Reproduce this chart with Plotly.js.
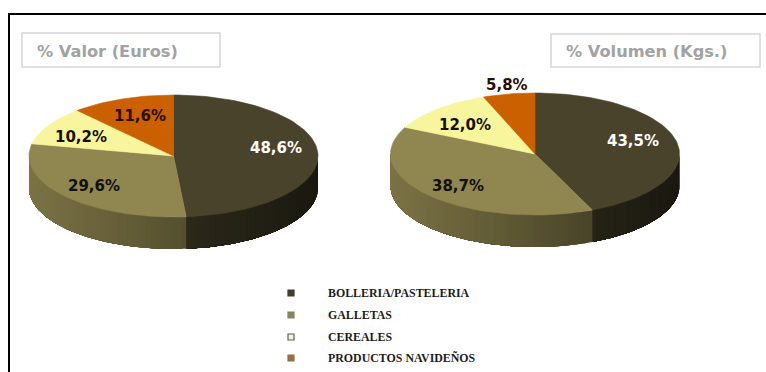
<!DOCTYPE html>
<html>
<head>
<meta charset="utf-8">
<script src="https://cdn.plot.ly/plotly-3.0.1.min.js"></script>
<style>html,body{margin:0;padding:0;background:#fff}#chart{width:766px;height:372px}</style>
</head>
<body>
<div id="chart"></div>
<script>
// Category names and shares per pie
const categories = ['BOLLERIA/PASTELERIA', 'GALLETAS', 'CEREALES', 'PRODUCTOS NAVIDEÑOS'];
const valorEuros = [48.6, 29.6, 10.2, 11.6];
const volumenKgs = [43.5, 38.7, 12.0, 5.8];
const titles = ['% Valor (Euros)', '% Volumen (Kgs.)'];

// Styling
const topColors = ['#4a432b', '#8f8650', '#f8f69c', '#cb6000'];
const sideBase = [[74, 67, 43], [143, 134, 80], [248, 246, 156], [203, 96, 0]];
const labelColors = ['#ffffff', '#141005', '#141005', '#2a0e00'];
const swatchFill = ['#403d32', '#85845f', '#f4f4d8', '#96703f'];
const swatchEdge = ['#403d32', '#85845f', '#5f5f45', '#96703f'];

// Pie geometry in the page-sized axis space
const rx = 144.5, ry = 61, depth = 32;
const pies = [
  {cx: 173.5, cy: 156, values: valorEuros, labelAt: [[276, 148], [94, 186], [81, 137], [140, 116]],
   box: [22, 33, 220, 67], titleX: 35},
  {cx: 535, cy: 154, values: volumenKgs, labelAt: [[633, 141], [458, 186], [465, 125], [507, 85]],
   box: [551, 34, 760, 67], titleX: 564}
];

const rad = d => d * Math.PI / 180;
const px = (p, t) => p.cx + rx * Math.sin(rad(t));
const py = (p, t, dy) => p.cy - ry * Math.cos(rad(t)) + (dy || 0);

const traces = [];
const annotations = [];
const shapes = [];
const font = 'DejaVu Sans, Verdana, sans-serif';

function poly(xs, ys, color, lw) {
  traces.push({
    type: 'scatter', mode: 'lines', x: xs, y: ys, fill: 'toself', fillcolor: color,
    line: {color: color, width: lw},
    hoverinfo: 'skip', showlegend: false
  });
}

pies.forEach(p => {
  const total = p.values.reduce((a, b) => a + b, 0);
  let start = 0;
  const arcs = p.values.map(v => {
    const end = start + v / total * 360;
    const a = [start, end];
    start = end;
    return a;
  });

  // Rim: overlapping bands along the visible front edge, painted over each other for a smooth shade
  arcs.forEach((a, i) => {
    const from = Math.max(a[0], 90), to = Math.min(a[1], 270);
    if (to <= from) return;
    const n = Math.ceil((to - from) / 2);
    for (let k = 0; k < n; k++) {
      const t0 = from + (to - from) * k / n;
      const u = (Math.sin(rad(t0 + (to - from) / n / 2)) + 1) / 2;
      const f = 0.86 - 0.5 * u;
      const c = sideBase[i].map(x => Math.round(x * f));
      const xs = [], ys = [];
      const steps = [];
      for (let m = t0; m < to; m += 1) steps.push(m);
      steps.push(to);
      steps.forEach(t => { xs.push(px(p, t)); ys.push(py(p, t)); });
      steps.slice().reverse().forEach(t => { xs.push(px(p, t)); ys.push(py(p, t, depth)); });
      xs.push(xs[0]); ys.push(ys[0]);
      poly(xs, ys, `rgb(${c.join(',')})`, 0);
    }
  });

  // Top face slices
  arcs.forEach((a, i) => {
    const xs = [p.cx], ys = [p.cy];
    const n = Math.max(4, Math.ceil((a[1] - a[0]) / 2));
    for (let k = 0; k <= n; k++) {
      const t = a[0] + (a[1] - a[0]) * k / n;
      xs.push(px(p, t));
      ys.push(py(p, t));
    }
    xs.push(p.cx); ys.push(p.cy);
    poly(xs, ys, topColors[i], 0.6);
  });

  // Value labels
  p.values.forEach((v, i) => {
    annotations.push({
      x: p.labelAt[i][0], y: p.labelAt[i][1], xref: 'x', yref: 'y', showarrow: false,
      text: v.toFixed(1).replace('.', ',') + '%',
      font: {family: font, size: 15, weight: 700, color: labelColors[i]}
    });
  });
});

// Title boxes
pies.forEach((p, i) => {
  shapes.push({type: 'rect', xref: 'x', yref: 'y', x0: p.box[0], y0: p.box[1], x1: p.box[2], y1: p.box[3],
    line: {color: '#d6d6d6', width: 1.5}, fillcolor: '#ffffff', layer: 'below'});
  annotations.push({
    x: p.titleX, y: (p.box[1] + p.box[3]) / 2 + 1, xref: 'x', yref: 'y', xanchor: 'left', showarrow: false,
    text: titles[i], font: {family: font, size: 16.2, weight: 700, color: '#a2a2a2'}
  });
});

// Legend
const legendX = 291, legendLabelX = 326, legendY = [293, 315, 337, 358];
traces.push({
  type: 'scatter', mode: 'markers', x: legendY.map(() => legendX), y: legendY,
  marker: {symbol: 'square', size: 6, color: swatchFill, line: {color: swatchEdge, width: 1.2}},
  hoverinfo: 'skip', showlegend: false
});
categories.forEach((c, i) => {
  annotations.push({
    x: legendLabelX, y: legendY[i], xref: 'x', yref: 'y', xanchor: 'left', showarrow: false,
    text: c, font: {family: 'Liberation Serif, serif', size: 11.9, weight: 700, color: '#1c1c1c'}
  });
});

// Outer frame: top and left edges only
shapes.push({type: 'line', xref: 'x', yref: 'y', x0: 9, y0: 14, x1: 766, y1: 14, line: {color: '#000', width: 2}});
shapes.push({type: 'line', xref: 'x', yref: 'y', x0: 9, y0: 13, x1: 9, y1: 372, line: {color: '#000', width: 2}});

const hidden = {visible: false, fixedrange: true, showgrid: false, zeroline: false};
Plotly.newPlot('chart', traces, {
  width: 766, height: 372,
  margin: {l: 0, r: 0, t: 0, b: 0},
  paper_bgcolor: '#fff', plot_bgcolor: '#fff',
  xaxis: Object.assign({range: [0, 766]}, hidden),
  yaxis: Object.assign({range: [372, 0]}, hidden),
  annotations, shapes, showlegend: false
}, {displayModeBar: false, staticPlot: true});
</script>
</body>
</html>
